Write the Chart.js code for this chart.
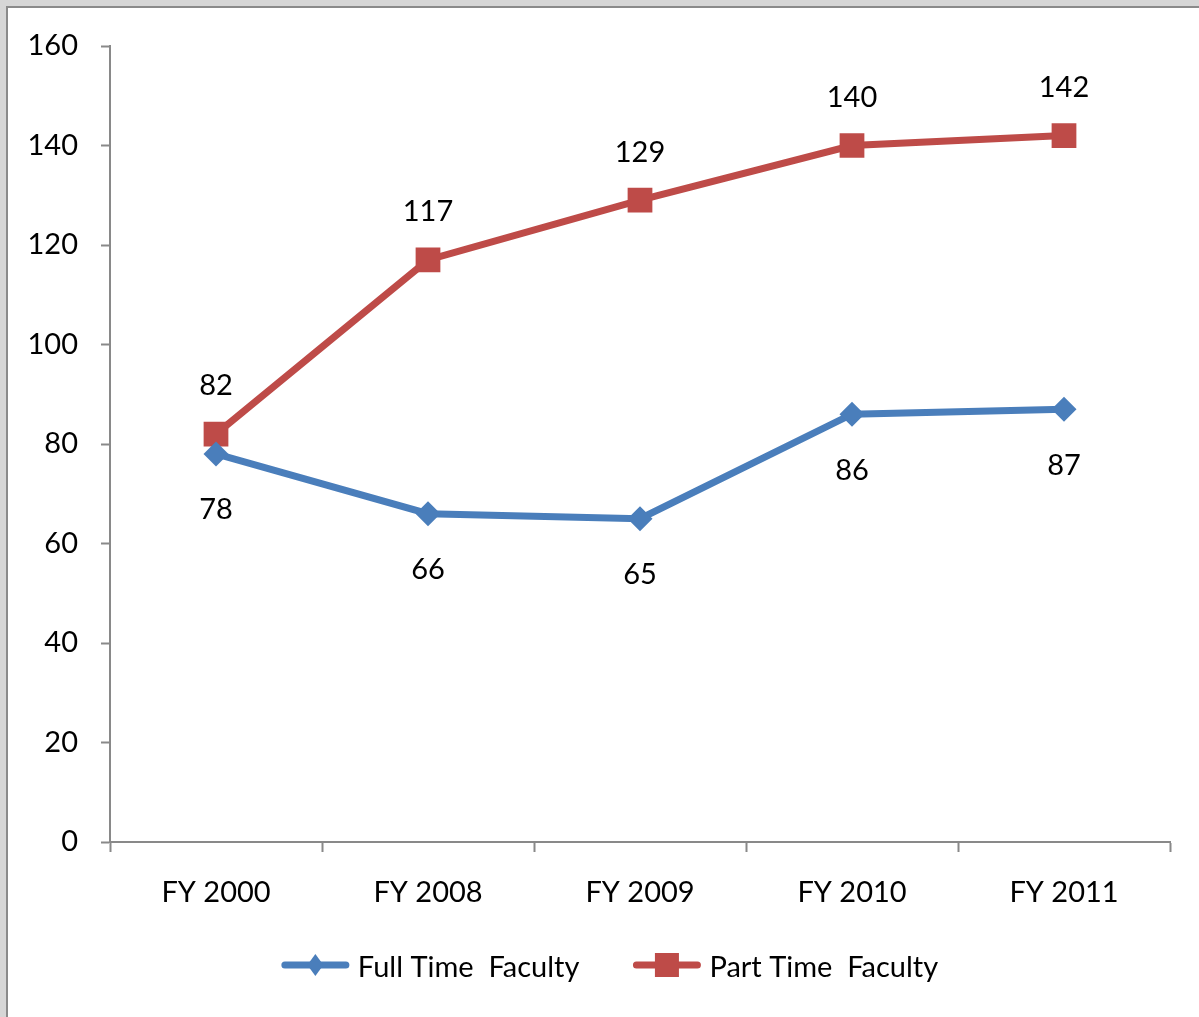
<!DOCTYPE html>
<html>
<head>
<meta charset="utf-8">
<script src="https://cdn.jsdelivr.net/npm/chart.js@4.4.1/dist/chart.umd.min.js"></script>
<style>
  html, body { margin: 0; padding: 0; }
  body { width: 1199px; height: 1017px; background: #d6d6d6; position: relative; overflow: hidden; }
  #frame { position: absolute; left: 6px; top: 6px; width: 1300px; height: 1100px; background: #ffffff; border: 2px solid #8a8a8a; }
  #wrap { position: absolute; left: 0; top: 0; width: 1199px; height: 1017px; }
</style>
</head>
<body>
<div id="frame"></div>
<div id="wrap"><canvas id="c" width="1199" height="1017"></canvas></div>
<script>
const categories = ['FY 2000', 'FY 2008', 'FY 2009', 'FY 2010', 'FY 2011'];
const fullTime = [78, 66, 65, 86, 87];
const partTime = [82, 117, 129, 140, 142];
const seriesNames = ['Full Time  Faculty', 'Part Time  Faculty'];
const yTicks = [0, 20, 40, 60, 80, 100, 120, 140, 160];

const FONT = 'Lato, "Liberation Sans", sans-serif';
const BLUE = '#4A7EBB';
const RED = '#BE4B48';
const AXIS = '#898989';

const labelPlugin = {
  id: 'valueLabels',
  afterDatasetsDraw(chart) {
    const ctx = chart.ctx;
    ctx.save();
    ctx.font = '29px ' + FONT;
    ctx.fillStyle = '#000';
    ctx.textAlign = 'center';
    ctx.textBaseline = 'middle';
    chart.data.datasets.forEach((ds, i) => {
      const meta = chart.getDatasetMeta(i);
      const off = ds.labelOffset;
      meta.data.forEach((pt, j) => {
        ctx.fillText(String(ds.data[j]), pt.x, pt.y + off);
      });
    });
    ctx.restore();
  }
};

const legendPlugin = {
  id: 'lineLegend',
  afterDraw(chart) {
    const ctx = chart.ctx;
    ctx.save();
    ctx.font = '29px ' + FONT;
    ctx.textBaseline = 'middle';
    ctx.textAlign = 'left';
    const y = 965;
    const lineLen = 67, gap = 9, itemGap = 54;
    const items = chart.data.datasets.map(ds => ({ ds, w: lineLen + gap + ctx.measureText(ds.label).width }));
    const total = items.reduce((a, b) => a + b.w, 0) + itemGap * (items.length - 1);
    let x = 610 - total / 2;
    items.forEach(({ ds, w }) => {
      ctx.strokeStyle = ds.borderColor;
      ctx.lineWidth = 7;
      ctx.lineCap = 'round';
      ctx.beginPath();
      ctx.moveTo(x + 3, y);
      ctx.lineTo(x + lineLen - 3, y);
      ctx.stroke();
      ctx.fillStyle = ds.backgroundColor;
      const cx = x + lineLen / 2;
      if (ds.pointStyle === 'rect') {
        ctx.fillRect(cx - 12, y - 12, 24, 24);
      } else {
        ctx.beginPath();
        ctx.moveTo(cx, y - 11);
        ctx.lineTo(cx + 8, y);
        ctx.lineTo(cx, y + 11);
        ctx.lineTo(cx - 8, y);
        ctx.closePath();
        ctx.fill();
      }
      ctx.fillStyle = '#000';
      ctx.fillText(ds.label, x + lineLen + gap, y + 3);
      x += w + itemGap;
    });
    ctx.restore();
  }
};

new Chart(document.getElementById('c'), {
  type: 'line',
  data: {
    labels: categories,
    datasets: [
      {
        label: seriesNames[0],
        data: fullTime,
        borderColor: BLUE,
        backgroundColor: BLUE,
        borderWidth: 7,
        pointStyle: 'rectRot',
        pointRadius: 12.5,
        pointBorderWidth: 0,
        tension: 0,
        labelOffset: 56
      },
      {
        label: seriesNames[1],
        data: partTime,
        borderColor: RED,
        backgroundColor: RED,
        borderWidth: 7,
        pointStyle: 'rect',
        pointRadius: 17.5,
        pointBorderWidth: 0,
        tension: 0,
        labelOffset: -48
      }
    ]
  },
  options: {
    responsive: false,
    animation: false,
    devicePixelRatio: 1,
    layout: { padding: { left: 0, top: 46, right: 29, bottom: 0 } },
    plugins: { legend: { display: false }, tooltip: { enabled: false } },
    scales: {
      x: {
        offset: true,
        grid: { display: true, drawOnChartArea: false, drawTicks: true, tickLength: 10, tickWidth: 2, tickColor: AXIS, offset: true },
        border: { display: true, color: AXIS, width: 2 },
        ticks: { color: '#000', font: { family: FONT, size: 29 }, padding: 23, maxRotation: 0 },
        afterFit: s => { s.height = 175; }
      },
      y: {
        min: 0, max: 160,
        afterBuildTicks: s => { s.ticks = yTicks.map(v => ({ value: v })); },
        grid: { display: true, drawOnChartArea: false, drawTicks: true, tickLength: 9, tickWidth: 2, tickColor: AXIS },
        border: { display: true, color: AXIS, width: 2 },
        ticks: { color: '#000', font: { family: FONT, size: 29 }, padding: 23 },
        afterFit: s => { s.width = 110; }
      }
    }
  },
  plugins: [labelPlugin, legendPlugin]
});
</script>
</body>
</html>
